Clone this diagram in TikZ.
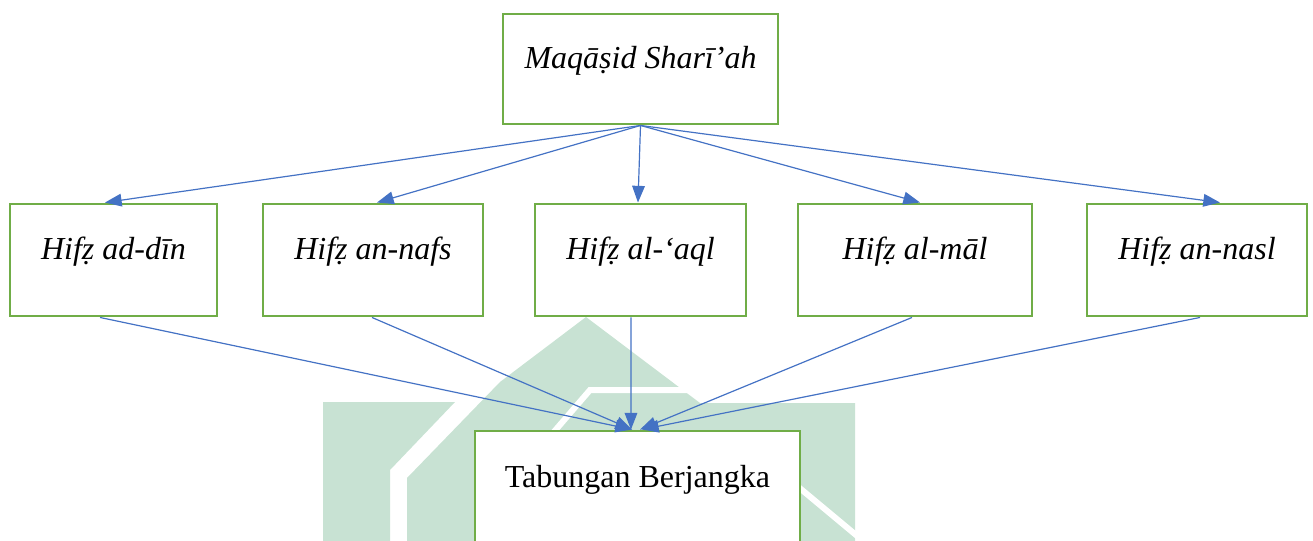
\documentclass[tikz,border=0pt]{standalone}
\usepackage{fontspec}
\setmainfont{Liberation Serif}
\usetikzlibrary{arrows.meta}
\definecolor{boxgreen}{HTML}{70AD47}
\definecolor{linkblue}{HTML}{4472C4}
\definecolor{wmgreen}{RGB}{200,226,211}

\begin{document}
\begin{tikzpicture}[x=0.75pt,y=-0.75pt,
  box/.style={draw=boxgreen, line width=2.2pt, fill=white, inner sep=0pt,
    text height=9pt, text depth=9pt, minimum height=84pt,
    font=\fontsize{24}{28}\selectfont\itshape},
  link/.style={draw=linkblue, line width=0.9pt, -{Triangle[length=12.5pt,width=9.5pt]}}]

\useasboundingbox (0,0) rectangle (1313,541);
\clip (0,0) rectangle (1313,541);

% pale logo in the background
\fill[wmgreen] (323,402) -- (455,402) -- (390,470) -- (390,545) -- (323,545) -- cycle;
\fill[wmgreen] (407,478) -- (500,382) -- (586,317) -- (700,403) -- (855,403) -- (855,545) -- (407,545) -- cycle;
\draw[white, line width=4.5pt] (540,448) -- (590,390) -- (705,390);
\draw[white, line width=4.5pt] (790,480) -- (862,540);

% boxes
\node[box, minimum width=206.25pt, minimum height=82.5pt] (top) at (640.5,69) {Maqāṣid Sharī’ah};
\node[box, minimum width=155.25pt] (b1) at (113.5,260) {Hifẓ ad-dīn};
\node[box, minimum width=165pt]    (b2) at (373,260)   {Hifẓ an-nafs};
\node[box, minimum width=158.25pt] (b3) at (640.5,260) {Hifẓ al-‘aql};
\node[box, minimum width=175.5pt]  (b4) at (915,260)   {Hifẓ al-māl};
\node[box, minimum width=165pt]    (b5) at (1197,260)  {Hifẓ an-nasl};
\node[box, minimum width=243.75pt, font=\fontsize{24}{28}\selectfont] (tb) at (637.5,487) {Tabungan Berjangka};

% from the goals to the five protections
\draw[link] (top.south) -- ([xshift=-6.4pt]b1.north);
\draw[link] (top.south) -- ([xshift=3pt]b2.north);
\draw[link] (top.south) -- ([xshift=-1.9pt]b3.north);
\draw[link] (top.south) -- ([xshift=3.75pt]b4.north);
\draw[link] (top.south) -- ([xshift=17.25pt]b5.north);

% from the five protections to the savings product
\draw[link] ([xshift=-10.1pt]b1.south) -- ([xshift=-4.1pt]tb.north);
\draw[link] ([xshift=-0.75pt]b2.south) -- ([xshift=-4.1pt]tb.north);
\draw[link] ([xshift=-7.1pt]b3.south) -- ([xshift=-4.9pt]tb.north);
\draw[link] ([xshift=-2.25pt]b4.south) -- ([xshift=1.9pt]tb.north);
\draw[link] ([xshift=2.25pt]b5.south) -- ([xshift=3.4pt]tb.north);
\end{tikzpicture}
\end{document}
